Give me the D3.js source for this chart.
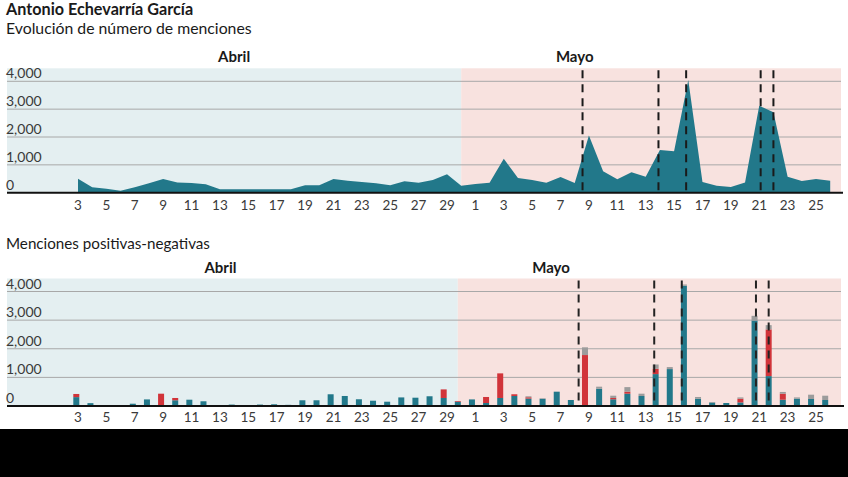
<!DOCTYPE html>
<html><head><meta charset="utf-8">
<script src="https://cdn.jsdelivr.net/npm/d3@7/dist/d3.min.js"></script>
<style>
html,body{margin:0;padding:0;background:#fff;}
svg{display:block;font-family:Lato,"Open Sans",sans-serif;}
</style></head>
<body>
<svg id="chart" width="848" height="477"></svg>
<script>
// Days: 3 Apr .. 26 May
const diasAbril = [3,4,5,6,7,8,9,10,11,12,13,14,15,16,17,18,19,20,21,22,23,24,25,26,27,28,29,30];
const diasMayo = [1,2,3,4,5,6,7,8,9,10,11,12,13,14,15,16,17,18,19,20,21,22,23,24,25,26];
const meses = ["Abril","Mayo"];
// total mentions per day
const menciones = [500,200,140,70,195,340,490,370,350,300,120,120,120,120,120,120,265,265,490,430,385,335,265,410,360,455,660,250,
  310,360,1220,530,455,360,565,350,2050,770,480,730,575,1530,1485,4050,385,250,205,370,3125,2885,575,420,490,430];
// positive / negative / neutral mentions per day
const positivas = [310,100,0,0,80,230,0,200,220,165,0,50,0,50,60,40,200,200,410,350,235,185,150,300,290,340,280,150,
  230,105,280,350,260,250,500,210,30,605,235,430,350,1115,1290,4200,255,120,105,125,2985,1045,220,255,245,210];
const negativas = [110,0,0,0,0,0,430,80,0,0,0,0,0,0,0,0,0,0,0,0,0,0,0,0,0,0,300,25,
  0,210,860,60,45,0,0,0,1750,0,45,70,0,185,0,0,0,0,0,130,0,1630,210,0,0,0];
const neutras = [0,0,0,0,0,0,0,0,0,0,0,0,0,0,0,0,0,0,0,0,0,0,0,0,0,0,0,0,
  0,0,0,0,35,20,0,0,270,70,80,160,80,150,70,45,60,20,0,45,165,150,60,45,150,150];
// event markers (May day, fractional)
const eventosMayo = [8.55, 13.9, 15.85, 21.1, 22.0];
const yTicks = [0,1000,2000,3000,4000];
const etiquetasX = ["3","5","7","9","11","13","15","17","19","21","23","25","27","29","1","3","5","7","9","11","13","15","17","19","21","23","25"];

const svg = d3.select("#chart");
const nA = diasAbril.length;
const days = diasAbril.map(d => ({m:0, d})).concat(diasMayo.map(d => ({m:1, d})));
const idxMay = d => nA - 1 + d; // index of May day d
const tickIdx = [];
days.forEach((t,i) => { if (t.d % 2 === 1) tickIdx.push(i); });

const C = {teal:"#22788a", red:"#d1343a", gray:"#9c9c9c", blue:"#e4eff1", pink:"#f8e2df", grid:"#a8a8a8"};
const L = 7, R = 841;

const xTop = d3.scaleLinear().domain([0, days.length-1]).range([78, 830.2]);
const xBot = d3.scaleLinear().domain([0, days.length-1]).range([76.3, 825.2]);

// Titles
svg.append("text").attr("x",L-1).attr("y",15).attr("font-weight",700).attr("font-size",16.2).attr("fill","#1a1a1a").text("Antonio Echevarría García");
svg.append("text").attr("x",L-1).attr("y",34).attr("font-size",15.8).attr("fill","#1a1a1a").text("Evolución de número de menciones");
svg.append("text").attr("x",L-1).attr("y",249).attr("font-size",15.2).attr("fill","#1a1a1a").text("Menciones positivas-negativas");

function panel(g, x, y0, y1, monthPos) {
  const y = d3.scaleLinear().domain([0,4000]).range([y0, y1]);
  const top = y1 - 13;
  g.append("rect").attr("x",L).attr("y",top).attr("width",x(nA-1)-L).attr("height",y0-top).attr("fill",C.blue);
  g.append("rect").attr("x",x(nA-1)).attr("y",top).attr("width",R-x(nA-1)).attr("height",y0-top).attr("fill",C.pink);
  g.selectAll(".grid").data(yTicks.slice(1)).join("line")
    .attr("x1",L).attr("x2",R).attr("y1",d=>y(d)).attr("y2",d=>y(d))
    .attr("stroke",C.grid).attr("stroke-width",1);
  g.selectAll(".yl").data(yTicks).join("text")
    .attr("x",L-1).attr("y",d=>y(d)-3).attr("font-size",14).attr("fill","#3a3a3a")
    .text(d3.format(","));
  g.selectAll(".mes").data(meses).join("text")
    .attr("x",(d,i)=>x(monthPos[i])).attr("y",top-6).attr("text-anchor","middle")
    .attr("font-weight",700).attr("font-size",15).attr("fill","#1a1a1a").text(d=>d);
  return {y, top};
}

// ---------- Top chart ----------
const gT = svg.append("g");
const pT = panel(gT, xTop, 192.7, 81.3, [11, 35]);
const area = d3.area().x((d,i)=>xTop(i)).y0(pT.y(0)).y1(d=>pT.y(d)).curve(d3.curveLinear);
gT.append("path").datum(menciones).attr("d",area).attr("fill",C.teal);
gT.selectAll(".ev").data(eventosMayo).join("line")
  .attr("x1",d=>xTop(idxMay(d))).attr("x2",d=>xTop(idxMay(d)))
  .attr("y1",pT.top+2).attr("y2",pT.y(0))
  .attr("stroke","#1a1a1a").attr("stroke-width",2).attr("stroke-dasharray","8,6");
gT.append("line").attr("x1",L).attr("x2",R+2).attr("y1",pT.y(0)).attr("y2",pT.y(0)).attr("stroke","#111").attr("stroke-width",2);
gT.selectAll(".xl").data(tickIdx).join("text")
  .attr("x",d=>xTop(d)).attr("y",210).attr("text-anchor","middle").attr("font-size",13.5).attr("fill","#3a3a3a")
  .text((d,i)=>etiquetasX[i]);

// ---------- Bottom chart ----------
const gB = svg.append("g");
const pB = panel(gB, xBot, 406, 291.5, [10.2, 33.6]);
const stackData = days.map((t,i)=>({i, pos:positivas[i], neg:negativas[i], neu:neutras[i]}));
const stack = d3.stack().keys(["pos","neg","neu"])(stackData);
const colors = {pos:C.teal, neg:C.red, neu:C.gray};
const bw = 6;
gB.selectAll(".layer").data(stack).join("g").attr("fill",d=>colors[d.key])
  .selectAll("rect").data(d=>d).join("rect")
  .attr("x",d=>xBot(d.data.i)-bw/2).attr("width",bw)
  .attr("y",d=>pB.y(d[1])).attr("height",d=>pB.y(d[0])-pB.y(d[1]));
gB.selectAll(".ev").data(eventosMayo).join("line")
  .attr("x1",d=>xBot(idxMay(d))).attr("x2",d=>xBot(idxMay(d)))
  .attr("y1",pB.top+2).attr("y2",pB.y(0))
  .attr("stroke","#222").attr("stroke-width",2).attr("stroke-dasharray","8,6");
gB.append("line").attr("x1",L).attr("x2",R+3).attr("y1",pB.y(0)).attr("y2",pB.y(0)).attr("stroke","#111").attr("stroke-width",2);
gB.selectAll(".xl").data(tickIdx).join("text")
  .attr("x",d=>xTop(d)).attr("y",422).attr("text-anchor","middle").attr("font-size",13.5).attr("fill","#3a3a3a")
  .text((d,i)=>etiquetasX[i]);

// black band at bottom of the picture
svg.append("rect").attr("x",0).attr("y",429).attr("width",848).attr("height",48).attr("fill","#000");
</script>
</body></html>
